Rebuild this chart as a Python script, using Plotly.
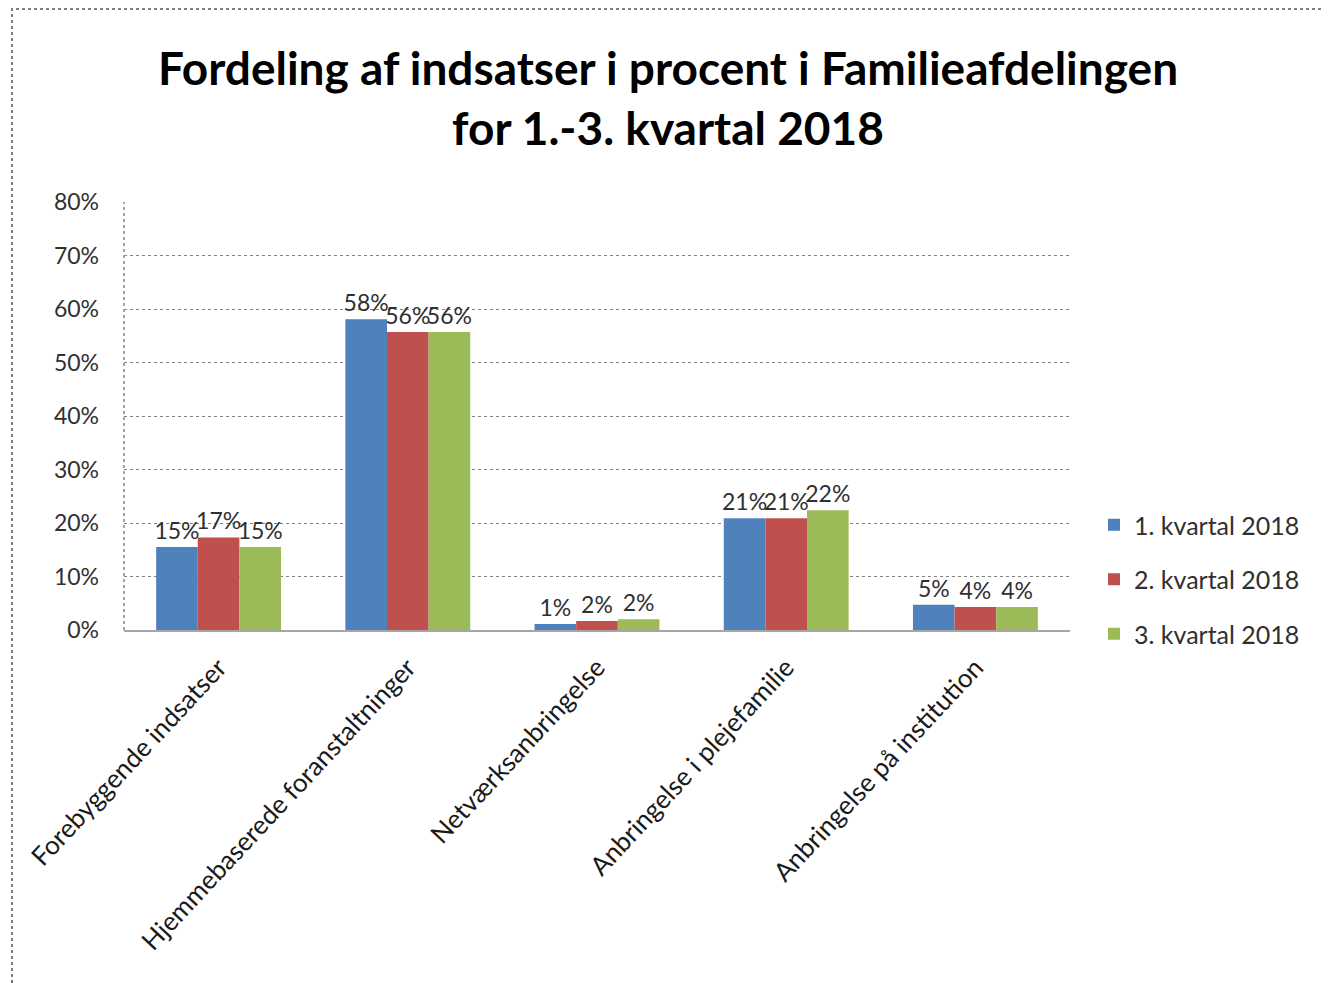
import plotly.graph_objects as go

categories = ["Forebyggende indsatser", "Hjemmebaserede foranstaltninger",
              "Netværksanbringelse", "Anbringelse i plejefamilie",
              "Anbringelse på institution"]
series_names = ["1. kvartal 2018", "2. kvartal 2018", "3. kvartal 2018"]
q1 = [0.155, 0.581, 0.011, 0.209, 0.047]
q2 = [0.173, 0.557, 0.017, 0.209, 0.043]
q3 = [0.155, 0.557, 0.020, 0.224, 0.043]
q1_labels = ["15%", "58%", "1%", "21%", "5%"]
q2_labels = ["17%", "56%", "2%", "21%", "4%"]
q3_labels = ["15%", "56%", "2%", "22%", "4%"]
colors = ["#4F81BD", "#C0504D", "#9BBB59"]
yticks = [0, 0.1, 0.2, 0.3, 0.4, 0.5, 0.6, 0.7, 0.8]
ytick_labels = ["0%", "10%", "20%", "30%", "40%", "50%", "60%", "70%", "80%"]

FONT = "Lato, 'Open Sans', sans-serif"
TXT = "#303030"
fig = go.Figure()
for i, (name, vals, labs, col) in enumerate(zip(series_names, [q1, q2, q3],
                                 [q1_labels, q2_labels, q3_labels], colors)):
    fig.add_trace(go.Bar(
        x=categories, y=vals, name=name, text=labs, legendgroup=f"g{i}",
        textposition="outside", constraintext="none", cliponaxis=False,
        textfont=dict(size=23, color=TXT, family=FONT),
        marker=dict(color=col, line=dict(width=0)),
    ))

# the page adds an 8px body margin; compensate so screen positions match
OFF = 8
W, H = 1330, 983
L, R, T, B = 124 - OFF, 260 + OFF, 202 - OFF, 353 + OFF
pw, ph = W - L - R, H - T - B

def px(x):
    return (x - OFF - L) / pw

def py(y):
    return (H - B - (y - OFF)) / ph

fig.update_layout(
    width=W, height=H,
    margin=dict(l=L, r=R, t=T, b=B),
    paper_bgcolor="white", plot_bgcolor="white",
    barmode="group", bargap=0.34, bargroupgap=0,
    font=dict(family=FONT, color=TXT),
    title=dict(
        text="Fordeling af indsatser i procent i Familieafdelingen<br>for 1.-3. kvartal 2018",
        x=(668 - OFF) / W, xanchor="center", y=1 - (85 - OFF) / H, yanchor="middle",
        font=dict(size=46, color="#000000", family=FONT, weight="bold"),
    ),
    legend=dict(
        x=px(1094), xanchor="left", y=py(502), yanchor="top",
        font=dict(size=25, color=TXT, family=FONT),
        tracegroupgap=19, itemsizing="constant",
        bgcolor="rgba(0,0,0,0)",
    ),
    showlegend=True,
)
fig.update_yaxes(
    range=[0, 0.8], tickvals=yticks, ticktext=ytick_labels,
    showgrid=True, gridcolor="#808080", griddash="dot", gridwidth=1,
    zeroline=False, showline=False,
    tickfont=dict(size=23, color=TXT, family=FONT),
    ticks="", ticklabelstandoff=24,
)
fig.update_xaxes(
    showline=True, linecolor="#a6a6a6", linewidth=2,
    ticks="", tickangle=-47, ticklabelstandoff=10,
    tickfont=dict(size=26, color="#1a1a1a", family=FONT),
    showgrid=False,
)
# dotted y axis line
fig.add_shape(type="line", xref="paper", yref="paper", x0=0, x1=0, y0=0, y1=1,
              line=dict(color="#a6a6a6", width=2, dash="dot"))
# outer chart border
fig.add_shape(type="rect", xref="paper", yref="paper",
              x0=px(12), x1=px(1326), y0=py(1000), y1=py(9),
              line=dict(color="#7f7f7f", width=2, dash="dot"))

fig.write_html("out.html")
